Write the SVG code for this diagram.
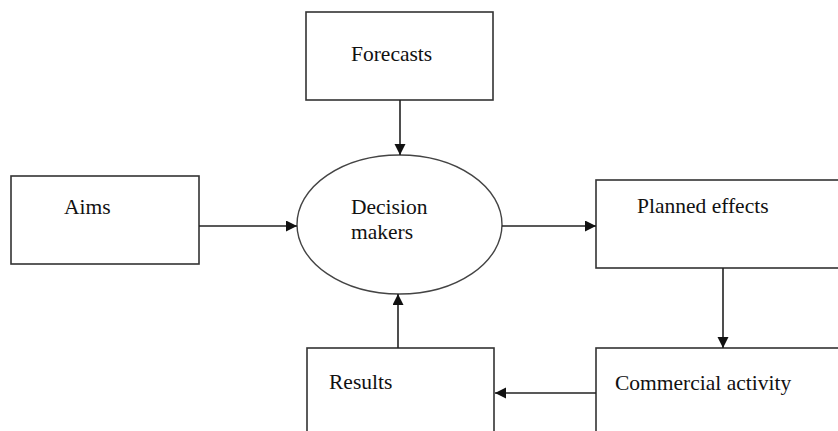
<svg xmlns="http://www.w3.org/2000/svg" width="838" height="431" viewBox="0 0 838 431">
<style>
.box{fill:#fff;stroke:#333;stroke-width:1.6}
.ell{fill:#fff;stroke:#444;stroke-width:1.4}
text{font-family:'Liberation Serif','Times New Roman','DejaVu Serif',serif;font-size:21.5px;fill:#111}
.con{stroke:#222;stroke-width:1.6;fill:none;marker-end:url(#arr)}
</style>
<defs>
<marker id="arr" markerUnits="userSpaceOnUse" markerWidth="12" markerHeight="12" refX="11" refY="5.5" orient="auto">
<path d="M0,0 L11,5.5 L0,11 z" fill="#111"/>
</marker>
</defs>
<rect x="0" y="0" width="838" height="431" fill="#fff"/>
<g id="forecasts"><rect class="box" x="306" y="12" width="187" height="88"/><text font-family="Liberation Serif, serif" x="351" y="61">Forecasts</text></g>
<g id="aims"><rect class="box" x="11" y="176" width="188" height="88"/><text font-family="Liberation Serif, serif" x="64" y="214">Aims</text></g>
<g id="decision"><ellipse class="ell" cx="399.5" cy="224.5" rx="102.5" ry="69.5"/><text font-family="Liberation Serif, serif" x="351" y="214">Decision</text><text font-family="Liberation Serif, serif" x="351" y="239">makers</text></g>
<g id="planned"><rect class="box" x="596" y="180" width="260" height="88"/><text font-family="Liberation Serif, serif" x="637" y="213">Planned effects</text></g>
<g id="commercial"><rect class="box" x="596" y="348" width="260" height="100"/><text font-family="Liberation Serif, serif" x="615" y="390">Commercial activity</text></g>
<g id="results"><rect class="box" x="307" y="348" width="187" height="100"/><text font-family="Liberation Serif, serif" x="329" y="389">Results</text></g>
<g id="connectors">
<line class="con" x1="400" y1="100" x2="400" y2="155"/>
<line class="con" x1="199" y1="226" x2="297" y2="226"/>
<line class="con" x1="502" y1="226" x2="596" y2="226"/>
<line class="con" x1="723" y1="268" x2="723" y2="348"/>
<line class="con" x1="596" y1="393" x2="495" y2="393"/>
<line class="con" x1="398" y1="348" x2="398" y2="294"/>
</g>
</svg>
